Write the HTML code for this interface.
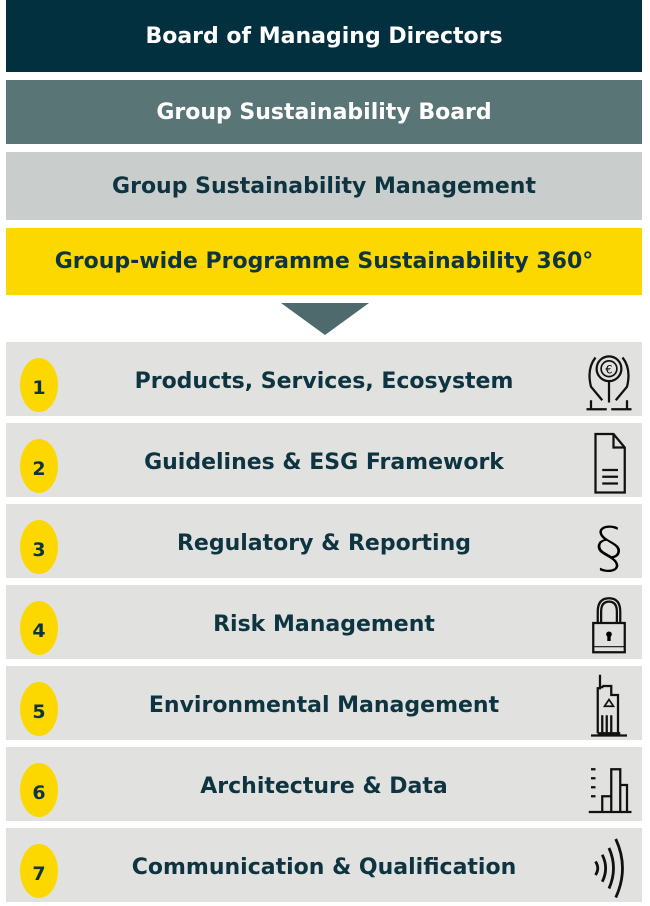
<!DOCTYPE html>
<html><head><meta charset="utf-8"><style>
body{margin:0;width:650px;height:904px;background:#fff;font-family:"DejaVu Sans","Liberation Sans",sans-serif;position:relative;overflow:hidden}
.box{position:absolute;left:6px;width:636px;display:flex;align-items:center;justify-content:center;font-weight:bold;font-size:22px}
.row{position:absolute;left:6px;width:636px;height:74px;background:#e1e1df}
.num{position:absolute;left:14px;top:16px;width:38px;height:54px;border-radius:50%;background:#fdd700;color:#0d3440;font-weight:bold;font-size:19px;display:flex;align-items:center;justify-content:center;padding-top:6px;box-sizing:border-box}
.lab{position:absolute;left:60px;right:60px;top:0;height:78px;display:flex;align-items:center;justify-content:center;font-weight:bold;font-size:22px;color:#0d3440}
.ic{position:absolute;right:6px;top:4px;width:54px;height:68px}
</style></head><body>
<div class="box" style="top:0;height:72px;background:#03303f;color:#fff">Board of Managing Directors</div>
<div class="box" style="top:80px;height:64px;background:#5a7576;color:#fff">Group Sustainability Board</div>
<div class="box" style="top:152px;height:68px;background:#c9cecd;color:#0d3440">Group Sustainability Management</div>
<div class="box" style="top:228px;height:67px;background:#fdd700;color:#0d3440">Group-wide Programme Sustainability 360°</div>
<svg style="position:absolute;left:0;top:0" width="650" height="340"><polygon points="281,303 369,303 325,335" fill="#4e6a6c"/></svg>
<div id="rows"></div>
<script>
const labels=["Products, Services, Ecosystem","Guidelines & ESG Framework","Regulatory & Reporting","Risk Management","Environmental Management","Architecture & Data","Communication & Qualification"];
const names=["products","guidelines","regulatory","risk","environmental","architecture","communication"];
const icons=[
'<path d="M12 10 Q4 20 8 36 L18 48 M36 10 Q44 20 40 36 L30 48 M8 48 V56 M40 48 V56 M4 56 H22 M26 56 H44" stroke="#111" stroke-width="2" fill="none"/><circle cx="24" cy="20" r="11" fill="none" stroke="#111" stroke-width="2"/><circle cx="24" cy="20" r="7" fill="none" stroke="#111" stroke-width="1.5"/><text x="24" y="24" font-size="10" text-anchor="middle">€</text><path d="M24 31 V50" stroke="#111" stroke-width="2"/>',
'<path d="M12 6 H28 L38 18 V58 H12 Z M28 6 V18 H38 M18 38 H32 M18 44 H32 M18 50 H32" stroke="#111" stroke-width="2" fill="none"/>',
'<text x="24" y="52" font-size="50" text-anchor="middle" font-family="DejaVu Sans" font-weight="200">§</text>',
'<path d="M14 30 V20 Q14 8 24 8 Q34 8 34 20 V30 M17 30 V20 Q17 11 24 11 Q31 11 31 20 V30" stroke="#111" stroke-width="2" fill="none"/><rect x="10" y="30" width="28" height="26" fill="none" stroke="#111" stroke-width="2"/><path d="M10 51 H38" stroke="#111"/><circle cx="24" cy="40" r="2.5"/><rect x="22.5" y="40" width="3" height="6"/>',
'<path d="M16 4 V16 H14 V56 M18 14 V16 M18 14 H26 V22 H32 V56 M14 56 H34 M8 58 H40 M18 40 V56 M22 40 V56 M26 40 V56" stroke="#111" stroke-width="2" fill="none"/><path d="M20 32 L24 26 L28 32 Z" fill="none" stroke="#111" stroke-width="1.5"/>',
'<path d="M8 16 H12 M8 24 H12 M8 32 H12 M8 40 H12 M6 54 H44 M18 54 V40 H26 V54 M26 54 V16 H34 V54 M34 54 V30 H40 V54" stroke="#111" stroke-width="2" fill="none"/>',
'<path d="M12 26 Q16 32 12 38 M18 20 Q24 32 18 44 M24 14 Q32 32 24 50 M30 6 Q42 32 30 58" stroke="#111" stroke-width="2.5" fill="none"/>'
];
const c=document.getElementById('rows');
labels.forEach((l,i)=>{
 const r=document.createElement('div');r.className='row';r.style.top=(342+i*81)+'px';
 
 
 const n=document.createElement('div');n.className='num';n.textContent=i+1;
 
 
 const t=document.createElement('div');t.className='lab';t.textContent=l;
 
 
 const s=document.createElementNS('http://www.w3.org/2000/svg','svg');s.setAttribute('class','ic');s.setAttribute('viewBox','0 0 48 60');s.innerHTML=icons[i];
 
 
 r.append(n,t,s);c.appendChild(r);
});
</script>
</body></html>
